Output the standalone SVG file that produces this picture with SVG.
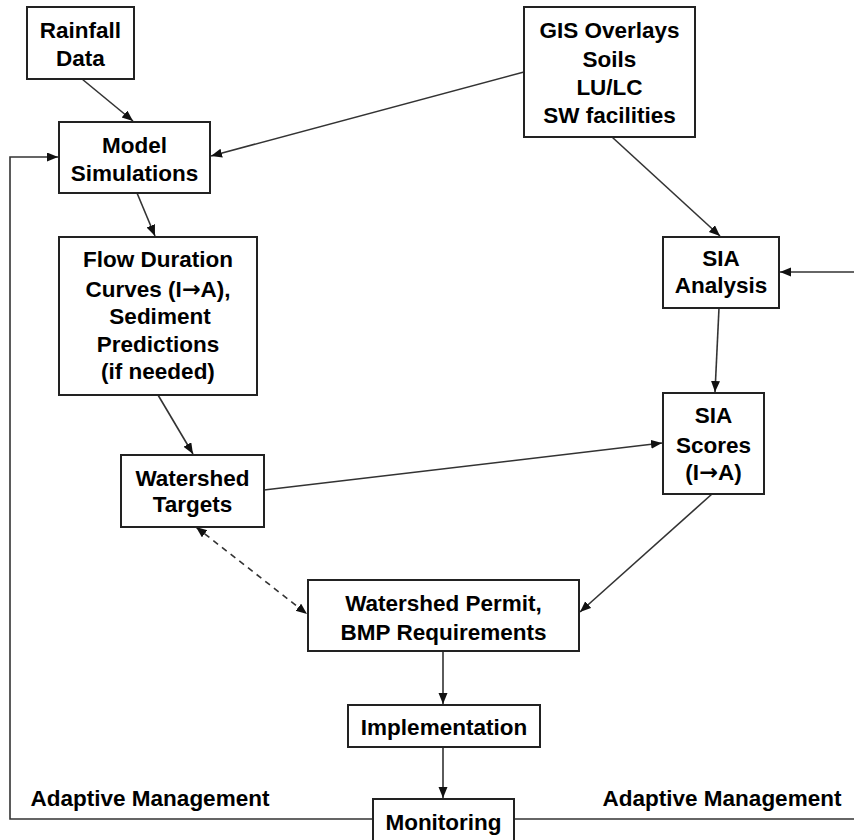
<svg xmlns="http://www.w3.org/2000/svg" width="854" height="840" viewBox="0 0 854 840">
<style>
.box{fill:#fff;stroke:#222;stroke-width:2}
.t{font-family:"Liberation Sans",Arial,sans-serif;font-weight:bold;font-size:22.5px;fill:#000;text-anchor:middle}
.ar{font-family:"DejaVu Sans",sans-serif;font-weight:bold}
.c{fill:none;stroke:#333;stroke-width:1.6}
.d{stroke-dasharray:6 5}
</style>
<defs>
<marker id="ah" markerUnits="userSpaceOnUse" markerWidth="12" markerHeight="10" refX="11" refY="4.5" orient="auto-start-reverse">
<path d="M0,0 L11,4.5 L0,9 z" fill="#111"/>
</marker>
</defs>
<rect width="854" height="840" fill="#fff"/>
<g id="connectors">
<line class="c" x1="82" y1="79" x2="133" y2="121" marker-end="url(#ah)"/>
<line class="c" x1="524" y1="72" x2="211" y2="156" marker-end="url(#ah)"/>
<line class="c" x1="137" y1="193" x2="155" y2="236" marker-end="url(#ah)"/>
<line class="c" x1="158" y1="395" x2="193" y2="454" marker-end="url(#ah)"/>
<line class="c" x1="612" y1="137" x2="720" y2="236" marker-end="url(#ah)"/>
<line class="c" x1="854" y1="272" x2="780" y2="272" marker-end="url(#ah)"/>
<line class="c" x1="719" y1="308" x2="715" y2="392" marker-end="url(#ah)"/>
<line class="c" x1="264" y1="490" x2="662" y2="443" marker-end="url(#ah)"/>
<line class="c" x1="712" y1="494" x2="580" y2="612" marker-end="url(#ah)"/>
<line class="c d" x1="196" y1="527" x2="307" y2="614" marker-start="url(#ah)" marker-end="url(#ah)"/>
<line class="c" x1="443" y1="651" x2="443" y2="704" marker-end="url(#ah)"/>
<line class="c" x1="443" y1="747" x2="443" y2="798" marker-end="url(#ah)"/>
<polyline class="c" points="373,819 10,819 10,157 58,157" marker-end="url(#ah)"/>
<line class="c" x1="514" y1="819" x2="854" y2="819"/>
</g>
<g id="rainfall">
<rect class="box" x="27" y="7" width="107" height="72"/>
<text class="t" x="80.5" y="38">Rainfall</text>
<text class="t" x="80.5" y="66">Data</text>
</g>
<g id="model">
<rect class="box" x="59" y="122" width="151" height="71"/>
<text class="t" x="134.5" y="153">Model</text>
<text class="t" x="134.5" y="181">Simulations</text>
</g>
<g id="gis">
<rect class="box" x="524" y="7" width="171" height="130"/>
<text class="t" x="609.5" y="38">GIS Overlays</text>
<text class="t" x="609.5" y="67">Soils</text>
<text class="t" x="609.5" y="95">LU/LC</text>
<text class="t" x="609.5" y="123">SW facilities</text>
</g>
<g id="sia-analysis">
<rect class="box" x="663" y="237" width="116" height="71"/>
<text class="t" x="721" y="266">SIA</text>
<text class="t" x="721" y="293">Analysis</text>
</g>
<g id="flow">
<rect class="box" x="59" y="237" width="198" height="158"/>
<text class="t" x="158" y="267">Flow Duration</text>
<text class="t" x="158" y="297">Curves (I<tspan class="ar">→</tspan>A),</text>
<text class="t" x="160" y="324">Sediment</text>
<text class="t" x="158" y="352">Predictions</text>
<text class="t" x="158" y="379">(if needed)</text>
</g>
<g id="targets">
<rect class="box" x="121" y="455" width="143" height="72"/>
<text class="t" x="192.5" y="486">Watershed</text>
<text class="t" x="192.5" y="512">Targets</text>
</g>
<g id="sia-scores">
<rect class="box" x="663" y="393" width="101" height="101"/>
<text class="t" x="713.5" y="423">SIA</text>
<text class="t" x="713.5" y="453">Scores</text>
<text class="t" x="713.5" y="480">(I<tspan class="ar">→</tspan>A)</text>
</g>
<g id="permit">
<rect class="box" x="308" y="580" width="271" height="71"/>
<text class="t" x="443.5" y="611">Watershed Permit,</text>
<text class="t" x="443.5" y="640">BMP Requirements</text>
</g>
<g id="implementation">
<rect class="box" x="348" y="705" width="192" height="42"/>
<text class="t" x="444" y="735">Implementation</text>
</g>
<g id="monitoring">
<rect class="box" x="373" y="799" width="141" height="45"/>
<text class="t" x="443.5" y="830">Monitoring</text>
</g>
<g id="labels">
<text class="t" x="150" y="806" font-size="23">Adaptive Management</text>
<text class="t" x="722" y="806" font-size="23">Adaptive Management</text>
</g>
</svg>
